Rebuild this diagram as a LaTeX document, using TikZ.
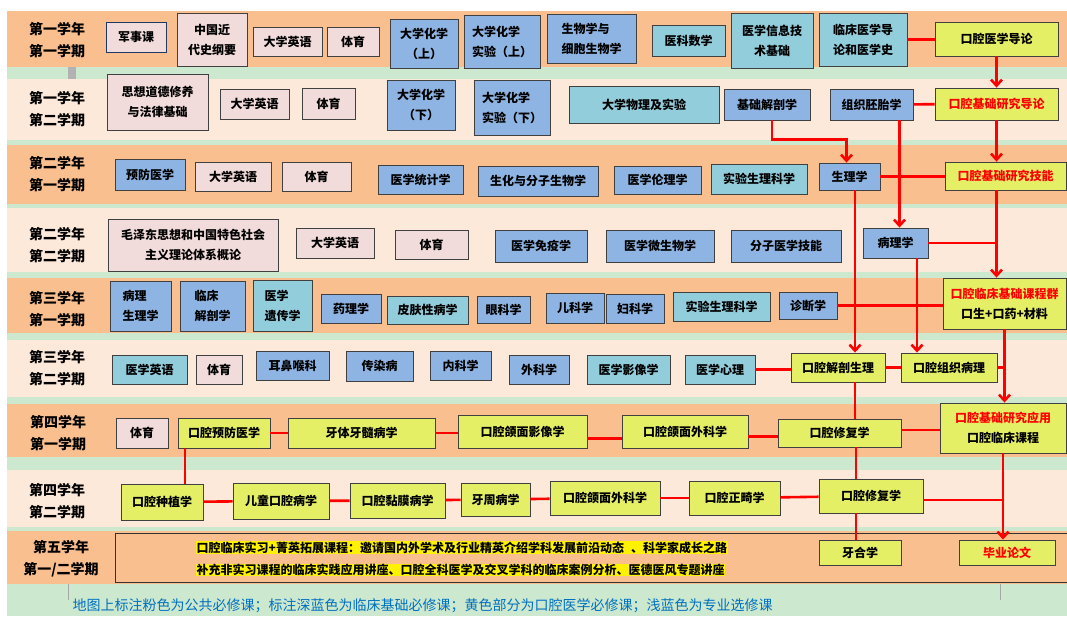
\documentclass[tikz,border=0pt]{standalone}
\usepackage{fontspec}
\setmainfont{Noto Sans CJK SC}
\usetikzlibrary{arrows.meta}

\definecolor{bandorange}{HTML}{FABF8F}
\definecolor{bandpeach}{HTML}{FDE9D9}
\definecolor{bandgreen}{HTML}{CCE8CF}
\definecolor{pinkfill}{HTML}{F2DCDB}
\definecolor{bluefill}{HTML}{8DB4E2}
\definecolor{cyanfill}{HTML}{92CDDC}
\definecolor{oralfill}{HTML}{E4EF66}
\definecolor{navyline}{HTML}{1F3864}
\definecolor{capblue}{HTML}{0070C0}

\tikzset{
  course/.style={draw=black!75, line width=0.9pt, inner sep=1pt, align=center,
    font=\fontsize{12}{20}\selectfont\bfseries},
  pinkc/.style={course, fill=pinkfill},
  bluec/.style={course, fill=bluefill},
  cyanc/.style={course, fill=cyanfill},
  oralc/.style={course, fill=oralfill},
  wh/.style 2 args={minimum width=#1pt, minimum height=#2pt},
  semester/.style={align=center, font=\fontsize{14}{22}\selectfont\bfseries},
  hltext/.style={fill=yellow, inner sep=0.5pt, font=\fontsize{12}{14}\selectfont\bfseries},
  redline/.style={draw=red, line width=2.6pt},
  redarrow/.style={redline, -{Straight Barb[length=6pt,width=11pt]}},
}

\begin{document}
\begin{tikzpicture}[x=1pt, y=-1pt]
    \useasboundingbox (0,0) rectangle (1067,616);

    % Semester bands
    \fill[white] (0,0) rectangle (1067,616);
    \fill[bandgreen] (7,11) rectangle (1067,616);
    \fill[bandorange] (7,11) rectangle (1067,67);
    \fill[bandpeach] (7,79) rectangle (1067,140);
    \fill[bandorange] (7,145) rectangle (1067,204);
    \fill[bandpeach] (7,208) rectangle (1067,272);
    \fill[bandorange] (7,278) rectangle (1067,333);
    \fill[bandpeach] (7,340) rectangle (1067,397);
    \fill[bandorange] (7,404) rectangle (1067,457);
    \fill[bandpeach] (7,470) rectangle (1067,527);
    \fill[bandorange] (7,531) rectangle (1067,584);
    \fill[gray!60] (68,67) rectangle (76,79);
    \draw[gray!70, line width=0.6pt] (68,584) -- (68,600);
    \draw[gray!70, line width=0.6pt] (1000,584) -- (1000,600);

    % Semester labels
    \node[semester] (s11) at (57,40) {第一学年\\第一学期};
    \node[semester] (s12) at (57,109) {第一学年\\第二学期};
    \node[semester] (s21) at (57,174) {第二学年\\第一学期};
    \node[semester] (s22) at (57,245) {第二学年\\第二学期};
    \node[semester] (s31) at (57,309) {第三学年\\第一学期};
    \node[semester] (s32) at (57,368) {第三学年\\第二学期};
    \node[semester] (s41) at (58,433) {第四学年\\第一学期};
    \node[semester] (s42) at (57,501) {第四学年\\第二学期};
    \node[semester] (s5) at (61,559) {第五学年\\第一/二学期};

    % Year 1, term 1
    \node[pinkc, wh={60}{30}, draw=navyline] (jsk) at (136,37) {军事课};
    \node[pinkc, wh={70}{53}] (zgjds) at (212,39.5) {中国近\\代史纲要};
    \node[pinkc, wh={69}{29}] (dxyy1) at (287.5,41.5) {大学英语};
    \node[pinkc, wh={52}{29}] (ty1) at (353,41.5) {体育};
    \node[bluec, wh={68}{49}] (dxhx1) at (424,43.5) {大学化学\\（上）};
    \node[bluec, wh={76}{53}, align=left] (dxhxsy1) at (502,41.5) {大学化学\\实验（上）};
    \node[bluec, wh={89}{49}, align=left] (swx) at (591.5,38.5) {生物学与\\细胞生物学};
    \node[cyanc, wh={73}{31}] (yksx) at (688.5,40.5) {医科数学};
    \node[cyanc, wh={82}{55}] (yxxx) at (772,40.5) {医学信息技\\术基础};
    \node[cyanc, wh={88}{53}, align=left] (lcyx) at (863,39.5) {临床医学导\\论和医学史};
    \node[oralc, wh={123}{34}] (kqyxdl) at (996.5,39) {口腔医学导论};

    % Year 1, term 2
    \node[pinkc, wh={101}{56}] (sxdd) at (157.5,102) {思想道德修养\\与法律基础};
    \node[pinkc, wh={69}{30}] (dxyy2) at (254.5,104) {大学英语};
    \node[pinkc, wh={53}{31}] (ty2) at (328.5,103.5) {体育};
    \node[bluec, wh={68}{50}] (dxhx2) at (421,105) {大学化学\\（下）};
    \node[bluec, wh={76}{55}, align=left] (dxhxsy2) at (512,107.5) {大学化学\\实验（下）};
    \node[cyanc, wh={150}{37}] (dxwl) at (644,104.5) {大学物理及实验};
    \node[bluec, wh={86}{31}] (jcjp) at (767,104.5) {基础解剖学};
    \node[bluec, wh={83}{31}] (zzpt) at (871.5,104.5) {组织胚胎学};
    \node[oralc, wh={123}{32}, text=red] (kqjcdl) at (996.5,104) {口腔基础研究导论};

    % Year 2, term 1
    \node[bluec, wh={70}{31}] (yfyx) at (150,174.5) {预防医学};
    \node[pinkc, wh={76}{29}] (dxyy3) at (233,176.5) {大学英语};
    \node[pinkc, wh={69}{29}] (ty3) at (316.5,176.5) {体育};
    \node[bluec, wh={85}{29}] (yxtj) at (420.5,179.5) {医学统计学};
    \node[bluec, wh={120}{30}] (shfz) at (538,181) {生化与分子生物学};
    \node[bluec, wh={87}{28}] (yxll) at (657.5,180) {医学伦理学};
    \node[cyanc, wh={96}{30}] (sysl3) at (759,179) {实验生理科学};
    \node[bluec, wh={61}{27}] (slx) at (849.5,176.5) {生理学};
    \node[oralc, wh={121}{28}, text=red] (kqjcjn) at (1005.5,176) {口腔基础研究技能};

    % Year 2, term 2
    \node[pinkc, wh={170}{52}] (mzd) at (193,245) {毛泽东思想和中国特色社会\\主义理论体系概论};
    \node[pinkc, wh={78}{30}] (dxyy4) at (335,243) {大学英语};
    \node[pinkc, wh={73}{29}] (ty4) at (431.5,244.5) {体育};
    \node[bluec, wh={92}{32}] (yxmy) at (541,246) {医学免疫学};
    \node[bluec, wh={108}{32}] (yxwsw) at (660,246) {医学微生物学};
    \node[bluec, wh={110}{32}] (fzyx) at (786,246) {分子医学技能};
    \node[bluec, wh={65}{30}] (blx) at (895.5,243) {病理学};

    % Year 3, term 1
    \node[bluec, wh={61}{50}, align=left] (blsl) at (140.5,306) {病理\\生理学};
    \node[bluec, wh={65}{50}, align=left] (lcjp) at (212.5,306) {临床\\解剖学};
    \node[cyanc, wh={59}{51}, align=left] (yxyc) at (282.5,305.5) {医学\\遗传学};
    \node[bluec, wh={60}{29}] (ylx) at (351,308.5) {药理学};
    \node[cyanc, wh={81}{28}] (pfxb) at (427.5,310) {皮肤性病学};
    \node[bluec, wh={53}{27}] (ykx) at (503.5,309.5) {眼科学};
    \node[bluec, wh={58}{30}] (ekx) at (575,308) {儿科学};
    \node[bluec, wh={58}{29}] (fkx) at (635,308.5) {妇科学};
    \node[cyanc, wh={97}{29}] (sysl5) at (721.5,306.5) {实验生理科学};
    \node[bluec, wh={58}{27}] (zdx) at (808,305.5) {诊断学};
    \node[oralc, wh={123}{51}] (kqlcjc) at (1004.5,303.5) {\textcolor{red}{口腔临床基础课程群}\\口生+口药+材料};

    % Year 3, term 2
    \node[cyanc, wh={75}{29}] (yxyy) at (149.5,369.5) {医学英语};
    \node[pinkc, wh={46}{29}] (ty6) at (219,369.5) {体育};
    \node[bluec, wh={73}{29}] (ebh) at (292.5,365.5) {耳鼻喉科};
    \node[bluec, wh={67}{30}] (crb) at (379.5,366) {传染病};
    \node[bluec, wh={61}{29}] (nkx) at (460.5,365.5) {内科学};
    \node[bluec, wh={60}{29}] (wkx) at (539,369.5) {外科学};
    \node[cyanc, wh={83}{29}] (yxyx) at (628.5,369.5) {医学影像学};
    \node[cyanc, wh={70}{29}] (yxxl) at (720,369.5) {医学心理};
    \node[oralc, wh={94}{29}] (kqjpsl) at (838,367.5) {口腔解剖生理};
    \node[oralc, wh={96}{29}] (kqzzbl) at (949,367.5) {口腔组织病理};

    % Year 4, term 1
    \node[pinkc, wh={52}{30}] (ty7) at (142,433) {体育};
    \node[oralc, wh={92}{30}] (kqyf) at (224,433) {口腔预防医学};
    \node[oralc, wh={147}{30}] (ytys) at (361.5,433) {牙体牙髓病学};
    \node[oralc, wh={129}{33}] (kqmx) at (522.5,431.5) {口腔颌面影像学};
    \node[oralc, wh={126}{33}] (kqwk7) at (685,431.5) {口腔颌面外科学};
    \node[oralc, wh={123}{28}] (kqxf7) at (839.5,433) {口腔修复学};
    \node[oralc, wh={126}{50}] (kqyy) at (1003,428) {\textcolor{red}{口腔基础研究应用}\\口腔临床课程};

    % Year 4, term 2
    \node[oralc, wh={82}{36}] (kqzz) at (162,502) {口腔种植学};
    \node[oralc, wh={96}{36}] (etkq) at (281,501) {儿童口腔病学};
    \node[oralc, wh={95}{35}] (kqnm) at (397.5,500.5) {口腔黏膜病学};
    \node[oralc, wh={69}{33}] (yzb) at (495.5,499.5) {牙周病学};
    \node[oralc, wh={110}{34}] (kqwk8) at (605,498) {口腔颌面外科学};
    \node[oralc, wh={91}{34}] (kqzj) at (734.5,498) {口腔正畸学};
    \node[oralc, wh={104}{34}] (kqxf8) at (871,496) {口腔修复学};

    % Year 5
    \draw[black!80, line width=0.8pt] (115,533) rectangle (1075,582);
    \node[hltext, anchor=west] (sx1) at (196,547.5) {口腔临床实习+菁英拓展课程：邀请国内外学术及行业精英介绍学科发展前沿动态\hspace{7pt}、科学家成长之路};
    \node[hltext, anchor=west] (sx2) at (196,570) {补充非实习课程的临床实践应用讲座、口腔全科医学及交叉学科的临床案例分析、医德医风专题讲座};
    \node[oralc, wh={82}{25}] (yhx) at (860,552.5) {牙合学};
    \node[oralc, wh={96}{25}, text=red] (bylw) at (1007,552.5) {毕业论文};

    % Connectors
    \draw[redline] (lcyx.east) -- (lcyx.east -| kqyxdl.west);
    \draw[redarrow] (kqyxdl.south) -- (kqjcdl.north);
    \draw[redline] (zzpt) -- (kqjcdl);
    \draw[redarrow] ([xshift=5pt]jcjp.south) -- ++(0,19) -| ([xshift=-3pt]slx.north);
    \draw[redline] (slx.east) -- (slx.east -| kqjcjn.west);
    \draw[redarrow] (kqjcdl.south) -- (kqjcdl.south |- kqjcjn.north);
    \draw[redarrow] ([xshift=4pt]blx.north |- zzpt.south) -- ([xshift=4pt]blx.north);
    \draw[redline] (blx.east) -- (blx.east -| kqjcdl.south);
    \draw[redarrow] (kqjcdl.south |- kqjcjn.south) -- (kqjcdl.south |- kqlcjc.north);
    \draw[redline] (zdx.east) -- (zdx.east -| kqlcjc.west);
    \draw[redarrow] ([xshift=5.5pt]slx.south) -- ([xshift=5.5pt]slx.south |- kqjpsl.north);
    \draw[redarrow] ([xshift=21.5pt]blx.south) -- ([xshift=21.5pt]blx.south |- kqzzbl.north);
    \draw[redline] (yxxl.east) -- (yxxl.east -| kqjpsl.west);
    \draw[redline] (kqjpsl) -- (kqzzbl);
    \draw[redline] (kqzzbl.east) -- (kqzzbl.east -| kqlcjc.south);
    \draw[redarrow] (kqlcjc.south) -- (kqlcjc.south |- kqyy.north);
    \draw[redline] ([xshift=17pt]kqjpsl.south) -- ([xshift=17pt]kqjpsl.south |- kqxf7.north);
    \draw[redline] (kqyf) -- (ytys);
    \draw[redline] (ytys.east) -- (ytys.east -| kqmx.west);
    \draw[redline] ([yshift=-7pt]kqmx.east) -- ([yshift=-7pt]kqmx.east -| kqwk7.west);
    \draw[redline] ([yshift=-5pt]kqwk7.east) -- ([yshift=-5pt]kqwk7.east -| kqxf7.west);
    \draw[redline] ([yshift=3pt]kqxf7.east) -- ([yshift=3pt]kqxf7.east -| kqyy.west);
    \draw[redline] ([xshift=-39pt]kqyf.south) -- ([xshift=-39pt]kqyf.south |- kqzz.north);
    \draw[redline] ([xshift=16.5pt]kqxf7.south) -- ([xshift=16.5pt]kqxf7.south |- kqxf8.north);
    \draw[redline] (kqzz) -- (etkq);
    \draw[redline] (etkq) -- (kqnm);
    \draw[redline] (kqnm) -- (yzb);
    \draw[redline] (yzb) -- (kqwk8);
    \draw[redline] (kqwk8) -- (kqzj);
    \draw[redline] (kqzj) -- (kqxf8);
    \draw[redline] ([yshift=-4pt]kqxf8.east) -- ([yshift=-4pt]kqxf8.east -| kqyy.south);
    \draw[redarrow] (kqyy.south) -- (kqyy.south |- bylw.north);
    \draw[redline] ([xshift=-15pt]kqxf8.south) -- ([xshift=-15pt]kqxf8.south |- yhx.north);

    % Legend
    \node[anchor=west, text=capblue, font=\fontsize{14}{16}\selectfont] (note) at (69,606) {地图上标注粉色为公共必修课；标注深蓝色为临床基础必修课；黄色部分为口腔医学必修课；浅蓝色为专业选修课};
\end{tikzpicture}
\end{document}
